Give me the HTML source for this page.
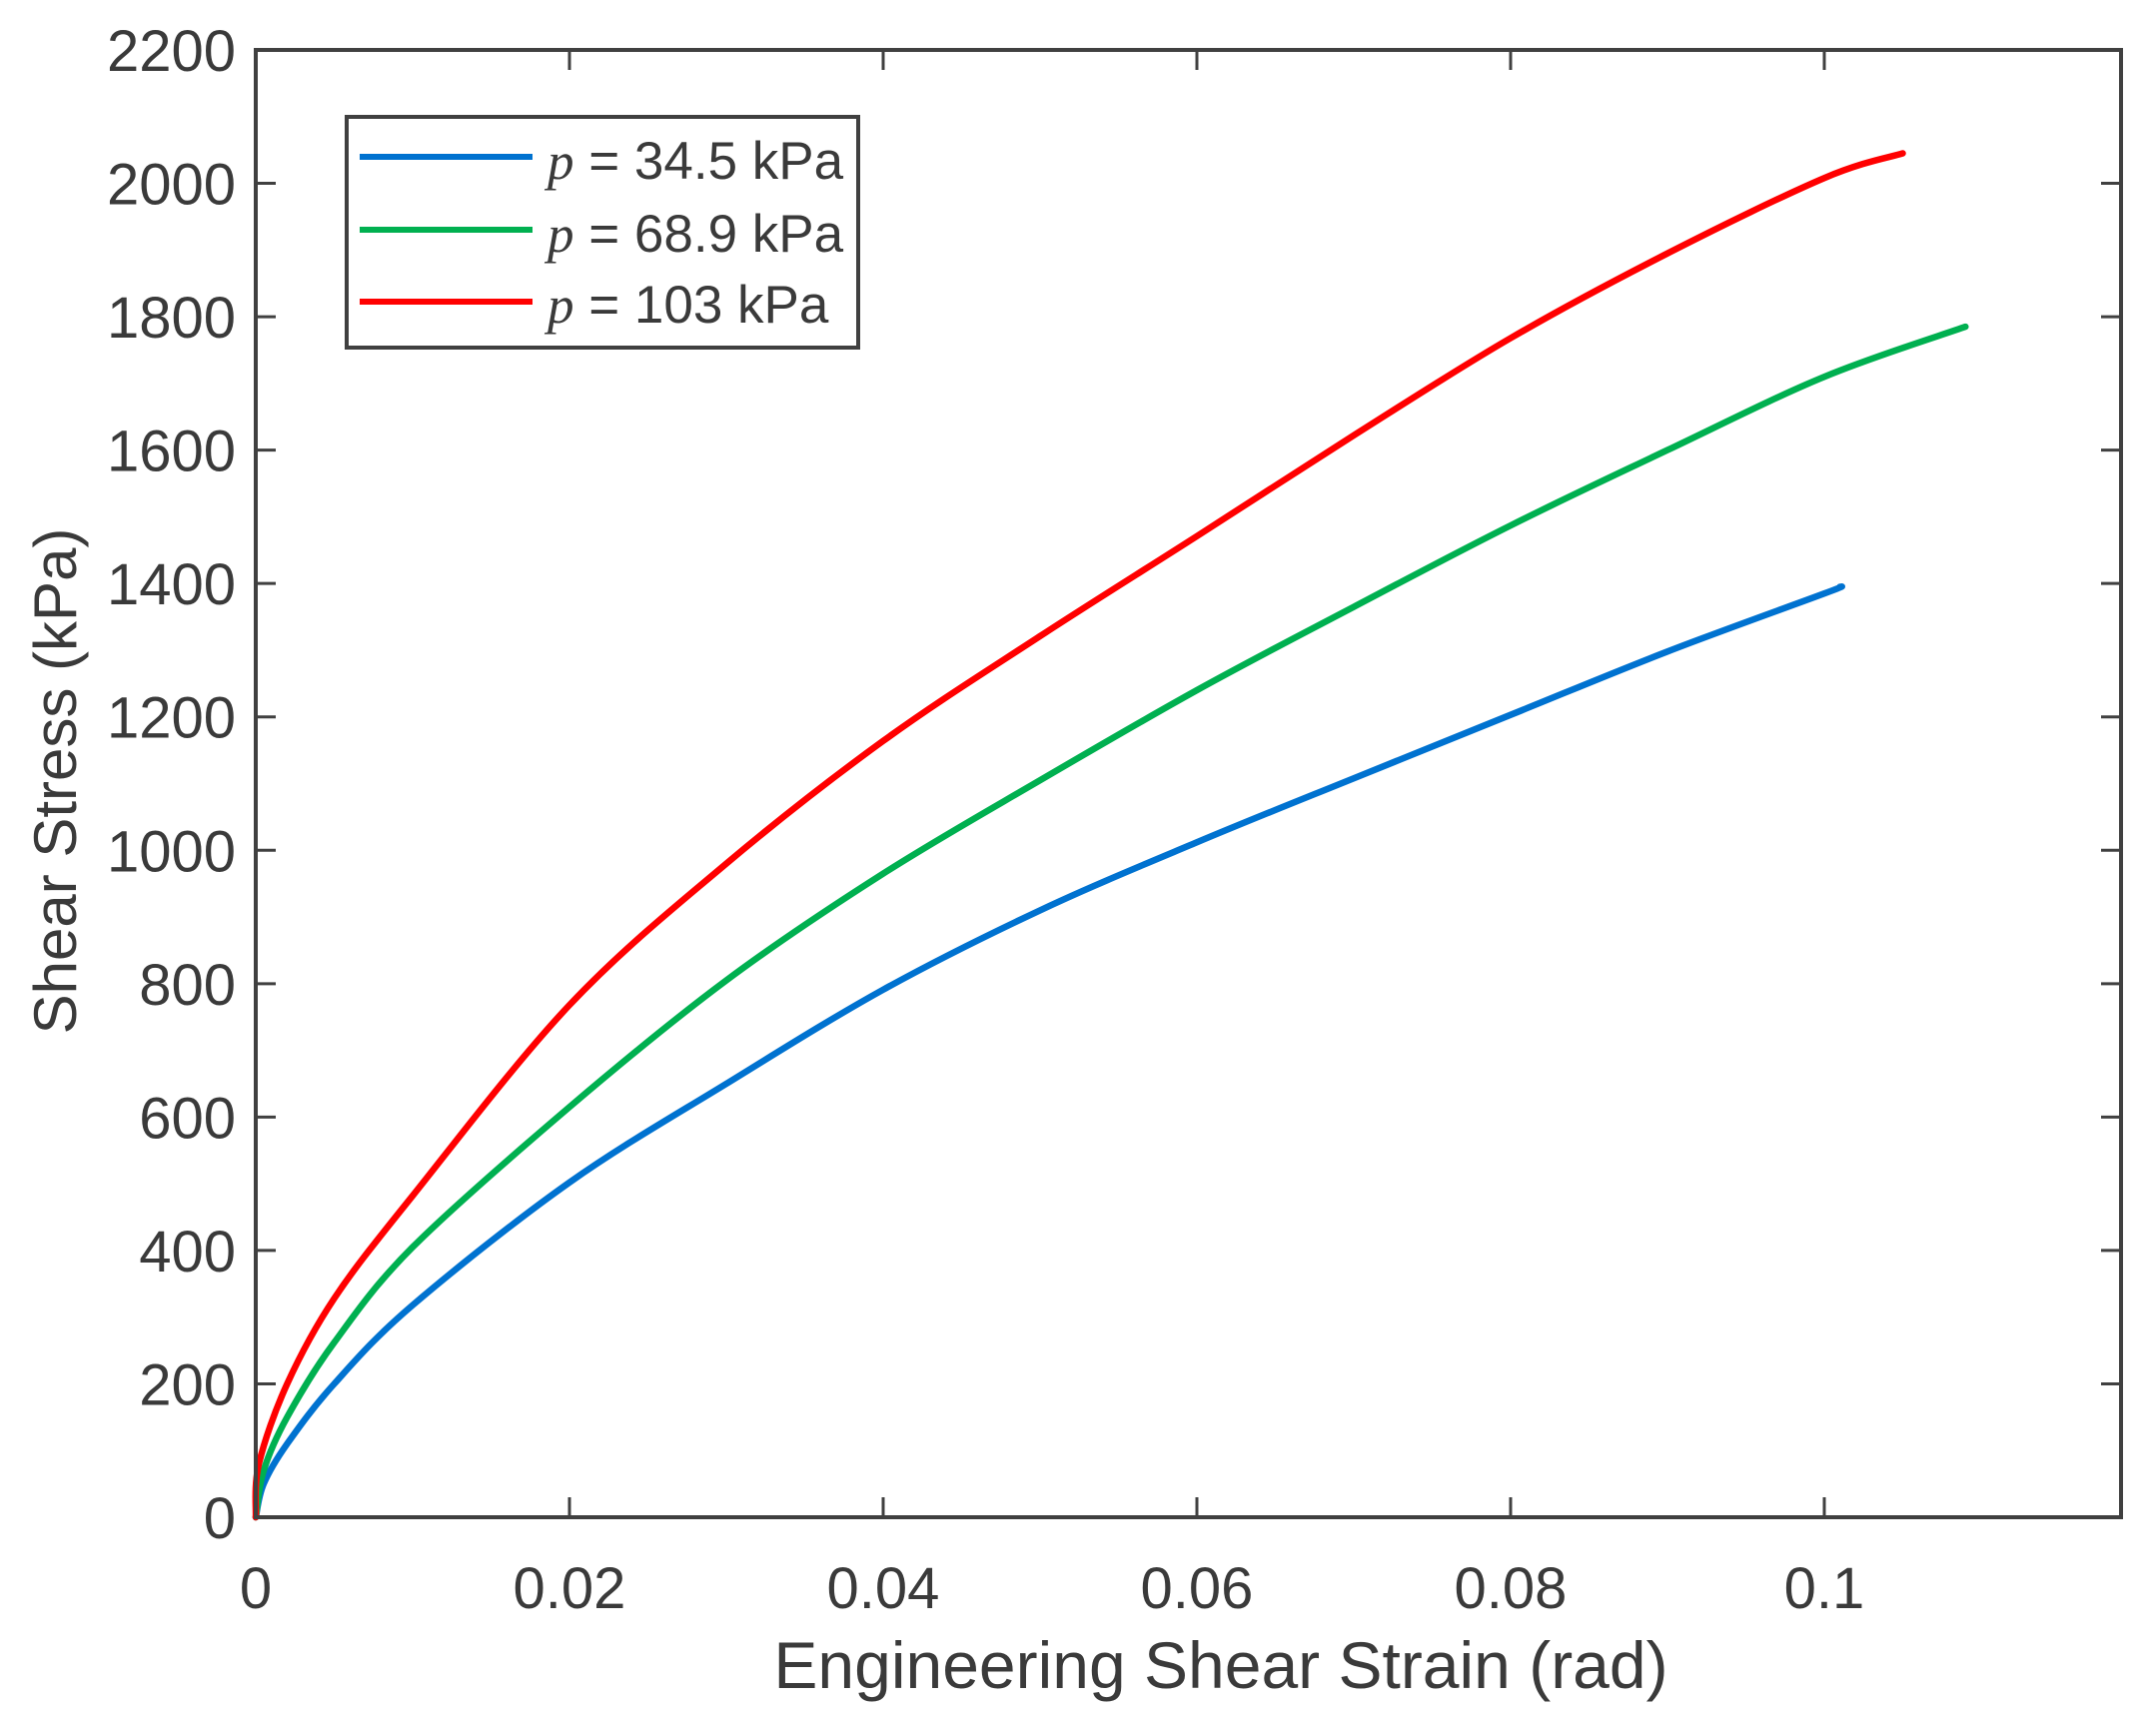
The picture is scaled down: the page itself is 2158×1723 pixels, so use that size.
<!DOCTYPE html>
<html><head><meta charset="utf-8">
<style>
html,body{margin:0;padding:0;background:#fff;}
svg{display:block;}
text{font-family:"Liberation Sans",sans-serif;fill:#3a3a3a;}
</style></head>
<body>
<svg id="chart" width="2158" height="1723" viewBox="0 0 2158 1723">
<rect x="0" y="0" width="2158" height="1723" fill="#fff"/>
<g id="marks"></g>
<g id="axes"></g>
<text x="1222" y="1690" font-size="66" text-anchor="middle">Engineering Shear Strain (rad)</text>
<text transform="translate(76,782) rotate(-90)" font-size="60" text-anchor="middle">Shear Stress (kPa)</text>
<g>
<rect x="347" y="117" width="512" height="231" fill="#fff" stroke="#404040" stroke-width="4"/>
<line x1="360" y1="157" x2="533" y2="157" stroke="#0072d0" stroke-width="6"/>
<line x1="360" y1="230" x2="533" y2="230" stroke="#00b050" stroke-width="6"/>
<line x1="360" y1="302" x2="533" y2="302" stroke="#ff0000" stroke-width="6"/>
<text x="548" y="179" font-size="53"><tspan font-family="Liberation Serif,serif" font-style="italic">p</tspan> = 34.5 kPa</text>
<text x="548" y="252" font-size="53"><tspan font-family="Liberation Serif,serif" font-style="italic">p</tspan> = 68.9 kPa</text>
<text x="548" y="323" font-size="53"><tspan font-family="Liberation Serif,serif" font-style="italic">p</tspan> = 103 kPa</text>
</g>
</svg>
<script>
const xTicks = [0, 0.02, 0.04, 0.06, 0.08, 0.1];
const xTickLabels = ["0", "0.02", "0.04", "0.06", "0.08", "0.1"];
const yTicks = [0, 200, 400, 600, 800, 1000, 1200, 1400, 1600, 1800, 2000, 2200];
const yTickLabels = ["0","200","400","600","800","1000","1200","1400","1600","1800","2000","2200"];
const strainBlue = [0, 0.0005, 0.002, 0.005, 0.01, 0.02, 0.03, 0.04, 0.05, 0.06, 0.07, 0.08, 0.09, 0.1, 0.101];
const stressBlue = [0, 50, 110, 200, 318, 502, 650, 791, 910, 1012, 1108, 1203, 1298, 1385, 1395];
const strainGreen = [0, 0.0005, 0.002, 0.005, 0.01, 0.02, 0.03, 0.04, 0.05, 0.06, 0.07, 0.08, 0.09, 0.1, 0.109];
const stressGreen = [0, 70, 150, 262, 405, 615, 805, 965, 1105, 1240, 1365, 1487, 1600, 1710, 1785];
const strainRed = [0, 0.0002, 0.002, 0.005, 0.01, 0.02, 0.03, 0.04, 0.05, 0.06, 0.07, 0.08, 0.09, 0.1, 0.105];
const stressRed = [0, 80, 200, 328, 482, 768, 980, 1164, 1321, 1471, 1622, 1768, 1895, 2008, 2045];

const L = 256, R = 2123, T = 50, B = 1519;
const X0 = 256, X01 = 1826;
function xs(v){ return X0 + v / 0.1 * (X01 - X0); }
function ys(v){ return B - v / 2200 * (B - T); }
const NS = "http://www.w3.org/2000/svg";
const axes = document.getElementById('axes');
const marks = document.getElementById('marks');

function mk(tag, attrs, parent){
  const e = document.createElementNS(NS, tag);
  for (const k in attrs) e.setAttribute(k, attrs[k]);
  parent.appendChild(e);
  return e;
}
function smoothPath(pts){
  let d = "M" + pts[0][0].toFixed(1) + "," + pts[0][1].toFixed(1);
  for (let i = 0; i < pts.length - 1; i++){
    const p0 = pts[Math.max(0, i - 1)], p1 = pts[i], p2 = pts[i + 1], p3 = pts[Math.min(pts.length - 1, i + 2)];
    const c1x = p1[0] + (p2[0] - p0[0]) / 6, c1y = p1[1] + (p2[1] - p0[1]) / 6;
    const c2x = p2[0] - (p3[0] - p1[0]) / 6, c2y = p2[1] - (p3[1] - p1[1]) / 6;
    d += " C" + c1x.toFixed(1) + "," + c1y.toFixed(1) + " " + c2x.toFixed(1) + "," + c2y.toFixed(1) + " " + p2[0].toFixed(1) + "," + p2[1].toFixed(1);
  }
  return d;
}

const series = [
  [strainBlue, stressBlue, "#0072d0", "series-p-34-5"],
  [strainGreen, stressGreen, "#00b050", "series-p-68-9"],
  [strainRed, stressRed, "#ff0000", "series-p-103"]
];
series.forEach(s => {
  const pts = s[0].map((x, i) => [xs(x), ys(s[1][i])]);
  const p = mk('path', {d: smoothPath(pts), fill: "none", stroke: s[2], "stroke-width": 6.5, "stroke-linejoin": "round", "stroke-linecap": "round"}, marks);
  
  
});

const frame = mk('rect', {x: L, y: T, width: R - L, height: B - T, fill: "none", stroke: "#404040", "stroke-width": 4}, axes);



xTicks.forEach((v, i) => {
  const x = xs(v);
  const t1 = mk('line', {x1: x, y1: B, x2: x, y2: B - 20, stroke: "#404040", "stroke-width": 3}, axes);
  
  
  const t2 = mk('line', {x1: x, y1: T, x2: x, y2: T + 20, stroke: "#404040", "stroke-width": 3}, axes);
  
  
  const lb = mk('text', {x: x, y: 1610, "font-size": 58, "text-anchor": "middle"}, axes);
  lb.textContent = xTickLabels[i];
  
  
});
yTicks.forEach((v, i) => {
  const y = ys(v);
  const t1 = mk('line', {x1: L, y1: y, x2: L + 20, y2: y, stroke: "#404040", "stroke-width": 3}, axes);
  
  
  const t2 = mk('line', {x1: R, y1: y, x2: R - 20, y2: y, stroke: "#404040", "stroke-width": 3}, axes);
  
  
  const lb = mk('text', {x: 236, y: y + 21, "font-size": 58, "text-anchor": "end"}, axes);
  lb.textContent = yTickLabels[i];
  
  
});
</script>
</body></html>
